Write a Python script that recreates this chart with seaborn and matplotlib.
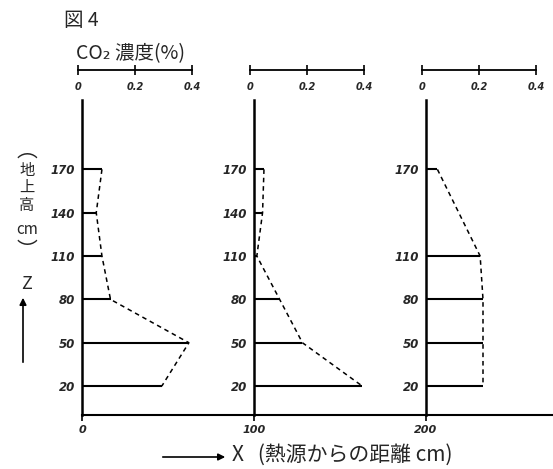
import matplotlib
matplotlib.use("Agg")
import matplotlib.pyplot as plt
import seaborn as sns
import pandas as pd

# ---- data ----
offsets_cm = [0, 100, 200]                 # distance from heat source (cm)
heights1 = [170, 140, 110, 80, 50, 20]
conc1 = [0.07, 0.05, 0.07, 0.10, 0.375, 0.28]
heights2 = [170, 140, 110, 80, 50, 20]
conc2 = [0.035, 0.03, 0.01, 0.09, 0.17, 0.38]
heights3 = [170, 110, 80, 50, 20]
conc3 = [0.04, 0.19, 0.20, 0.20, 0.20]
scale_ticks = [0, 0.2, 0.4]
scale_labels = ["0", "0.2", "0.4"]
dist_ticks = [0, 100, 200]
dist_labels = ["0", "100", "200"]

panels = [(heights1, conc1), (heights2, conc2), (heights3, conc3)]

# ---- style ----
sns.set_style("white")
plt.rcParams["font.family"] = ["Noto Sans CJK JP", "DejaVu Sans"]

W, H = 553, 469
fig = plt.figure(figsize=(W / 100, H / 100), dpi=100)

def rect(x0, ytop, x1, ybot):
    return [x0 / W, 1 - ybot / H, (x1 - x0) / W, (ybot - ytop) / H]

PX_PER_CM = 1.72
PX_PER_PCT = 285
X0 = 82
YTOP, YBOT = 100, 415
YMAX = 218
XLIM_PCT = 0.45

# main axis (distance baseline)
axm = fig.add_axes(rect(X0, YTOP, W, YBOT))
axm.set_xlim(0, (W - X0) / PX_PER_CM)
axm.set_ylim(0, YMAX)
axm.patch.set_alpha(0)
for s in ["top", "right", "left"]:
    axm.spines[s].set_visible(False)
axm.spines["bottom"].set_linewidth(1.5)
axm.spines["bottom"].set_color("black")
axm.set_yticks([])
axm.set_xticks(dist_ticks)
axm.set_xticklabels(dist_labels, fontsize=8, style="italic", family="DejaVu Sans",
                    fontweight="bold")
axm.tick_params(axis="x", bottom=True, direction="out", length=4, width=1.2, pad=3,
                color="black")

for off, (hts, cc) in zip(offsets_cm, panels):
    px0 = X0 + off * PX_PER_CM
    ax = fig.add_axes(rect(px0, YTOP, px0 + XLIM_PCT * PX_PER_PCT, YBOT))
    ax.set_xlim(0, XLIM_PCT)
    ax.set_ylim(0, YMAX)
    ax.patch.set_alpha(0)
    for s in ["top", "right", "bottom"]:
        ax.spines[s].set_visible(False)
    ax.spines["left"].set_linewidth(1.8)
    ax.spines["left"].set_color("black")
    ax.hlines(hts, 0, cc, color="black", lw=1.5)
    df = pd.DataFrame({"conc": cc, "h": hts})
    sns.lineplot(data=df, x="conc", y="h", sort=False, estimator=None, ax=ax,
                 color="black", lw=1.1, linestyle=(0, (3, 2.5)))
    ax.set_xticks([])
    ax.set_yticks(hts)
    ax.set_yticklabels([str(h) for h in hts], fontsize=8.5, style="italic",
                       family="DejaVu Sans", fontweight="bold")
    ax.tick_params(axis="y", length=0, pad=5)
    ax.set_xlabel("")
    ax.set_ylabel("")

    # CO2 scale bar on top
    sx = px0 - 4
    axs = fig.add_axes(rect(sx, 62, sx + XLIM_PCT * PX_PER_PCT, 70))
    axs.set_xlim(0, XLIM_PCT)
    axs.patch.set_alpha(0)
    for s in ["top", "right", "left"]:
        axs.spines[s].set_visible(False)
    axs.spines["bottom"].set_bounds(0, max(scale_ticks))
    axs.spines["bottom"].set_linewidth(1.3)
    axs.spines["bottom"].set_color("black")
    axs.set_yticks([])
    axs.set_xticks(scale_ticks)
    axs.set_xticklabels(scale_labels, fontsize=7, style="italic",
                        family="DejaVu Sans", fontweight="bold")
    axs.tick_params(axis="x", bottom=True, direction="inout", length=7, width=1.2,
                    pad=5, color="black")

# texts
fig.text(64 / W, 1 - 21 / H, "図 4", fontsize=14, va="center", ha="left")
fig.text(76 / W, 1 - 54 / H, "CO₂ 濃度(%)", fontsize=14, va="center", ha="left")

def ftxt(x, y, s, **kw):
    fig.text(x / W, 1 - y / H, s, va="center", ha="center", **kw)

ftxt(27, 151, "︵", fontsize=15, family="Noto Sans CJK JP")
ftxt(27, 170, "地", fontsize=11)
ftxt(27, 187, "上", fontsize=11)
ftxt(27, 205, "高", fontsize=11)
ftxt(27, 230, "cm", fontsize=11)
ftxt(27, 251, "︶", fontsize=15, family="Noto Sans CJK JP")
ftxt(27, 284, "Z", fontsize=13)

fig.add_artist(matplotlib.patches.FancyArrowPatch(
    (23 / W, 1 - 365 / H), (23 / W, 1 - 295 / H), transform=fig.transFigure,
    arrowstyle="-|>", mutation_scale=10, color="black", lw=1.2))
fig.add_artist(matplotlib.patches.FancyArrowPatch(
    (160 / W, 1 - 457 / H), (228 / W, 1 - 457 / H), transform=fig.transFigure,
    arrowstyle="-|>", mutation_scale=10, color="black", lw=1.2))
fig.text(232 / W, 1 - 455 / H, "X   (熱源からの距離 cm)", fontsize=15, va="center",
         ha="left")

fig.savefig("out.png", dpi=100)
